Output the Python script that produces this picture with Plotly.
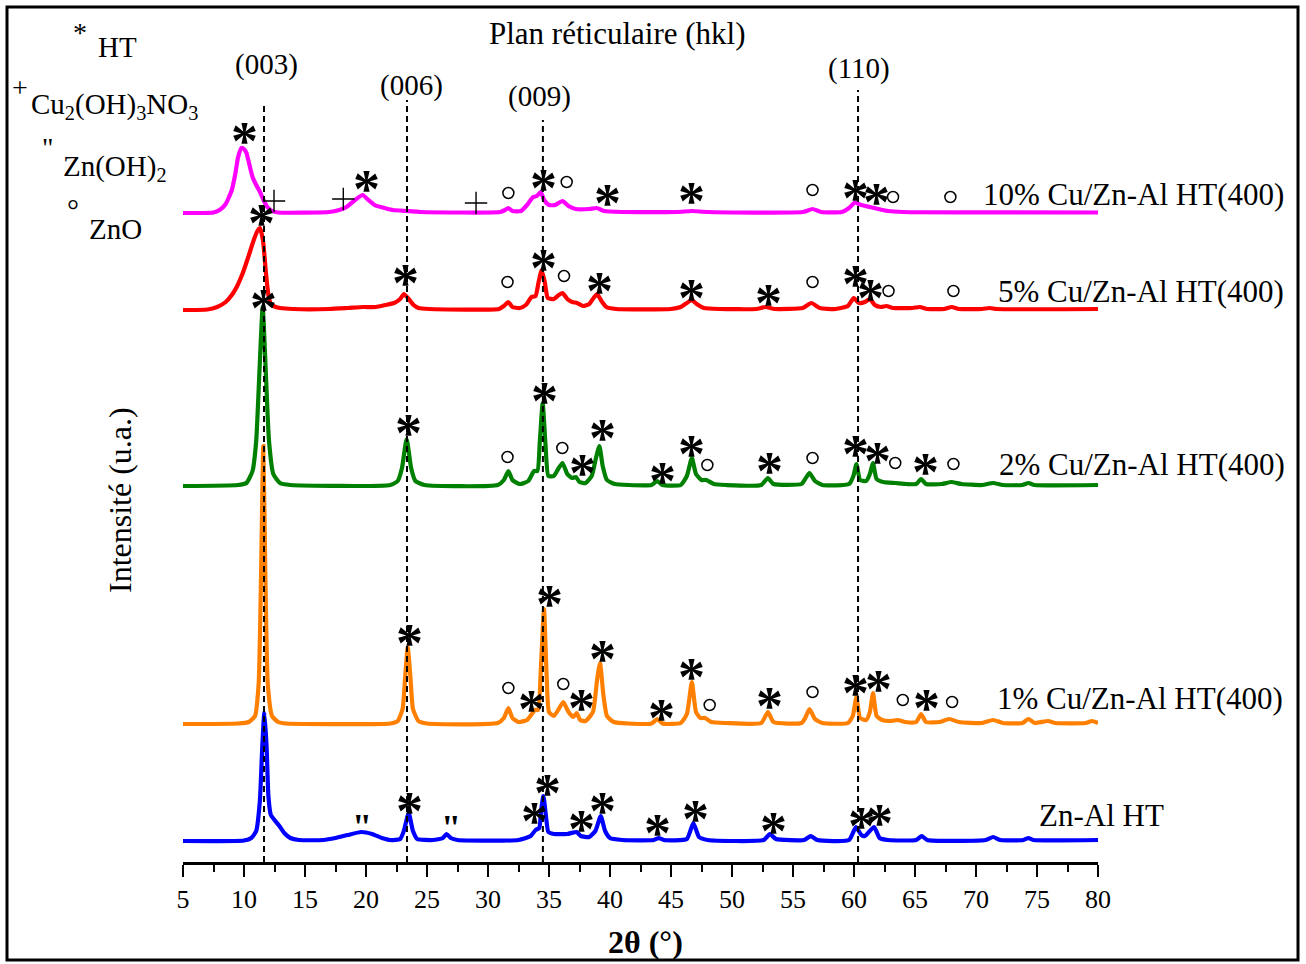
import plotly.graph_objects as go

# ---------------- data (2theta in degrees, intensity in a.u. above each baseline) -------------
tt_znal = [5, 10.0, 10.6, 11.0, 11.3, 11.5, 11.67, 11.85, 12.0, 12.2, 12.5, 12.9, 13.3, 13.8, 14.5,
           16.5, 17.5, 18.5, 19.6, 20.5, 21.3, 22.0, 22.8, 23.1, 23.5, 23.85, 24.2, 25.5, 26.3, 26.6,
           26.95, 27.5, 32.5, 33.5, 33.9, 34.2, 34.35, 34.54, 34.75, 34.95, 35.4, 36.5, 37.27, 37.6,
           38.3, 38.8, 39.24, 39.6, 40.0, 41.0, 43.6, 44.0, 44.4, 46.3, 46.83, 47.3, 48.0, 52.6, 53.1,
           53.6, 55.9, 56.45, 57.0, 59.6, 60.16, 60.6, 60.9, 61.64, 62.1, 62.8, 65.1, 65.55, 66.0,
           70.8, 71.4, 72.0, 73.9, 74.3, 74.7, 80]
int_znal = [0, 0.5, 3, 10, 40, 95, 129, 95, 45, 26, 21, 15, 8, 3, 1,
            1, 3, 6, 9, 7, 3, 1, 2, 10, 28, 10, 2, 1, 3, 7,
            3, 1, 1, 5, 11, 13, 30, 45, 25, 9, 7, 7, 9, 5,
            4, 10, 25, 10, 3, 1, 1, 3, 1, 2, 18, 4, 1, 1, 7,
            2, 1, 5, 1, 1, 14, 6, 5, 14, 3, 1, 1, 5, 1,
            1, 4, 1, 1, 3, 1, 1]

tt_cu1 = [5, 9.5, 10.4, 10.9, 11.2, 11.4, 11.58, 11.75, 11.95, 12.3, 12.8, 13.5, 22.0, 22.6, 23.0,
          23.2, 23.42, 23.65, 23.85, 24.3, 25.0, 30.8, 31.3, 31.67, 32.0, 32.5, 33.2, 33.6, 33.85,
          34.1, 34.35, 34.59, 34.8, 35.0, 35.4, 35.8, 36.17, 36.6, 37.0, 37.27, 37.55, 38.0, 38.6,
          38.95, 39.18, 39.45, 39.75, 40.3, 41.5, 43.4, 43.88, 44.3, 45.8, 46.3, 46.71, 47.05, 47.4,
          47.8, 48.3, 49.5, 52.4, 52.94, 53.4, 55.7, 56.0, 56.35, 56.8, 57.4, 59.5, 59.9, 60.2, 60.5,
          61.0, 61.3, 61.56, 61.85, 62.3, 63.0, 63.58, 64.2, 65.1, 65.5, 65.9, 67.0, 67.8, 68.6, 70.5,
          71.4, 72.2, 73.8, 74.3, 74.8, 75.9, 76.5, 79.0, 79.5, 80]
int_cu1 = [0, 0.5, 2, 8, 40, 150, 278, 150, 40, 8, 2, 0.5, 0.5, 3, 15,
           45, 77, 45, 15, 3, 0.5, 1, 6, 16, 6, 2, 4, 10, 14,
           14, 60, 115, 50, 12, 8, 15, 22, 12, 7, 11, 4, 3, 12,
           45, 61, 30, 8, 2, 0.5, 0.5, 5, 0.5, 1, 10, 42, 12, 6,
           6, 2, 1, 1, 12, 2, 1, 6, 15, 5, 1, 1, 8, 27, 6,
           4, 12, 31, 8, 4, 3, 4, 2, 2, 10, 2, 2, 5, 2, 1,
           4, 1, 1, 5, 1, 3, 1, 1, 3, 1]

tt_cu2 = [5, 9.5, 10.2, 10.7, 11.0, 11.25, 11.53, 11.8, 12.05, 12.4, 12.95, 13.8, 22.0, 22.6, 22.95,
          23.33, 23.7, 24.05, 24.8, 30.8, 31.3, 31.67, 32.0, 32.6, 33.3, 33.77, 34.05, 34.25, 34.48,
          34.72, 34.95, 35.4, 35.8, 36.11, 36.5, 36.9, 37.2, 37.5, 38.0, 38.5, 38.85, 39.13, 39.4,
          39.75, 40.4, 41.5, 43.4, 43.88, 44.3, 45.8, 46.3, 46.71, 47.05, 47.5, 47.9, 48.5, 49.5,
          52.4, 52.94, 53.4, 55.7, 56.0, 56.35, 56.8, 57.4, 59.6, 59.95, 60.2, 60.5, 61.0, 61.3,
          61.56, 61.85, 62.4, 63.4, 64.3, 65.1, 65.5, 65.9, 67.2, 67.98, 68.8, 70.5, 71.4, 72.2,
          73.8, 74.3, 74.8, 80]
int_cu2 = [0, 1, 3, 15, 45, 110, 179, 110, 45, 12, 3, 1, 1, 5, 18,
           47, 18, 5, 1, 1, 6, 15, 6, 2, 5, 15, 15, 45, 83,
           40, 10, 10, 18, 23, 12, 8, 9, 4, 3, 10, 28, 40, 20,
           6, 2, 1, 1, 5, 1, 1, 10, 28, 12, 6, 6, 2, 1,
           1, 8, 2, 2, 7, 13, 5, 1, 2, 10, 22, 6, 5, 12,
           23, 7, 4, 3, 2, 2, 7, 2, 2, 4, 2, 1, 3, 1,
           1, 3, 1, 1]

tt_cu5 = [5, 7.0, 7.8, 8.5, 9.0, 9.4, 9.9, 10.35, 10.8, 11.1, 11.31, 11.55, 11.8, 12.0, 12.2, 12.6,
          12.95, 14.0, 17.0, 18.5, 19.78, 20.8, 21.6, 22.3, 22.8, 23.11, 23.5, 23.9, 24.3, 25.2, 30.9,
          31.3, 31.67, 32.0, 32.6, 33.1, 33.57, 33.9, 34.15, 34.4, 34.65, 34.9, 35.4, 35.8, 36.11,
          36.5, 36.9, 37.3, 37.8, 38.3, 38.65, 38.95, 39.3, 39.7, 40.5, 45.0, 45.8, 46.3, 46.71,
          47.1, 47.7, 49.0, 52.0, 52.75, 53.5, 55.8, 56.5, 57.2, 58.5, 59.5, 59.98, 60.4, 60.9, 61.3,
          61.7, 62.2, 62.66, 63.2, 64.8, 65.4, 66.0, 67.4, 68.0, 68.6, 70.5, 71.1, 71.7, 80]
int_cu5 = [0, 0.5, 3, 8, 15, 23, 37, 53, 70, 79, 82, 70, 37, 15, 6, 3,
           2, 1, 1, 2, 3, 3, 5, 7, 11, 16, 11, 5, 2, 1, 1,
           4, 8, 3, 2, 5, 13, 14, 28, 40, 28, 12, 11, 15, 17,
           11, 8, 7, 4, 6, 12, 16, 9, 3, 1, 1, 3, 7, 10,
           6, 2, 1, 1, 3, 1, 2, 7, 2, 1, 4, 12, 7, 8, 11,
           5, 3, 4, 2, 2, 3, 1, 1, 3, 1, 1, 2, 1, 1]

tt_cu10 = [5, 7.5, 8.0, 8.5, 9.0, 9.3, 9.5, 9.79, 10.0, 10.2, 10.45, 10.7, 11.0, 11.31, 11.6, 11.91,
           12.3, 12.8, 17.0, 17.8, 18.4, 19.2, 19.73, 20.2, 20.7, 21.2, 22.2, 23.3, 24.5, 31.0, 31.4,
           31.67, 32.0, 32.7, 33.2, 33.7, 34.0, 34.32, 34.6, 35.0, 35.5, 36.11, 36.6, 37.2, 38.3,
           38.91, 39.5, 41.0, 45.5, 46.7, 48.0, 55.8, 56.6, 57.3, 59.0, 59.6, 60.08, 60.6, 61.3,
           62.0, 62.8, 64.0, 80]
int_cu10 = [0, 0.5, 3, 9, 23, 40, 55, 65, 64, 60, 48, 36, 28, 21, 13, 6,
            2, 0.5, 1, 3, 6, 14, 18, 13, 8, 6, 3, 2, 1, 1, 3,
            5, 2, 2, 8, 16, 17, 21, 13, 8, 8, 12, 7, 4, 4,
            5, 2, 1, 1, 2, 1, 1, 4, 1, 1, 5, 10.5, 8, 6,
            4, 2, 1, 0.5]

sample_names = ["Zn-Al HT", "1% Cu/Zn-Al HT(400)", "2% Cu/Zn-Al HT(400)",
                "5% Cu/Zn-Al HT(400)", "10% Cu/Zn-Al HT(400)"]
series_tt = [tt_znal, tt_cu1, tt_cu2, tt_cu5, tt_cu10]
series_int = [int_znal, int_cu1, int_cu2, int_cu5, int_cu10]

# hkl reflections (2theta)
hkl_labels = ["(003)", "(006)", "(009)", "(110)"]
hkl_tt = [11.64, 23.36, 34.5, 60.33]

# phase marks (2theta, a.u. on the stacked scale)
ht_marks = [(10.0, 732), (20.06, 684), (34.54, 685), (39.78, 670), (46.71, 672), (60.16, 675), (61.84, 671),
            (11.45, 650), (23.25, 590), (34.54, 605), (39.1, 582), (46.71, 575), (53.03, 570), (60.16, 589), (61.38, 575),
            (11.58, 565), (23.47, 440), (34.67, 472), (37.73, 400), (39.4, 435), (44.32, 392), (46.71, 419),
            (53.11, 402), (60.16, 419), (61.93, 412), (65.88, 401),
            (23.55, 230), (33.58, 164), (35.02, 269), (37.68, 165), (39.4, 214), (44.23, 155), (46.71, 196),
            (53.05, 167), (60.09, 180), (62.0, 184), (65.97, 165),
            (23.55, 62), (33.85, 52), (34.86, 80), (37.68, 44), (39.4, 62), (43.88, 40), (46.97, 54),
            (53.39, 42), (60.63, 47), (62.07, 50)]
zno_marks = [(31.67, 669), (36.45, 680), (56.6, 672), (63.2, 665), (67.9, 665),
             (31.6, 580), (36.23, 586), (56.6, 580), (62.83, 571), (68.15, 571),
             (31.6, 405), (36.09, 414), (47.98, 397), (56.6, 404), (63.38, 399), (68.15, 398),
             (31.67, 174), (36.17, 178), (48.17, 157), (56.6, 170), (64.0, 162), (68.04, 160)]
cu_marks = [(12.46, 661), (18.14, 663), (29.02, 659)]
znoh_marks = [(19.65, 45), (26.94, 44)]

# ---------------- styling / layout -----------------
colors = ["#0000FF", "#FF8000", "#008000", "#FF0000", "#FF00FF"]
offsets = [21, 138, 376, 552, 649]
label_pos = [(1101, 815, "center"), (1285, 698, "right"), (1287, 464, "right"),
             (1286, 291, "right"), (1286, 194, "right")]
hkl_label_pos = [(266, 64), (411, 85), (539, 97), (859, 69)]
hkl_line_top = [756, 762, 742, 772]

W, H = 1306, 964
L, R, T, B = 183, 208, 10, 102
PW, PH = W - L - R, H - T - B
FONT = "Liberation Serif"


def pxx(p):
    return (p - L) / PW


def pxy(p):
    return (H - B - p) / PH


fig = go.Figure()
for tt, inten, off, col in zip(series_tt, series_int, offsets, colors):
    fig.add_trace(go.Scatter(x=tt, y=[v + off for v in inten], mode="lines",
                             line=dict(color=col, width=4.2, shape="spline", smoothing=0.5),
                             showlegend=False, hoverinfo="skip"))

fig.add_trace(go.Scatter(x=[p[0] for p in zno_marks], y=[p[1] for p in zno_marks], mode="markers",
                         marker=dict(symbol="circle-open", size=11, color="black", line=dict(width=1.5)),
                         showlegend=False, hoverinfo="skip"))
fig.add_trace(go.Scatter(x=[p[0] for p in cu_marks], y=[p[1] for p in cu_marks], mode="markers",
                         marker=dict(symbol="cross-thin-open", size=16, color="black", line=dict(width=1.4, color="black")),
                         showlegend=False, hoverinfo="skip"))

annotations = []
for (x, y) in ht_marks:
    annotations.append(dict(x=x, y=y, xref="x", yref="y", text="<b>*</b>", showarrow=False,
                            font=dict(family=FONT, size=54, color="black"), yshift=-11,
                            xanchor="center", yanchor="middle"))
for (x, y) in znoh_marks:
    annotations.append(dict(x=x, y=y, xref="x", yref="y", text="<b>\"</b>", showarrow=False,
                            font=dict(family=FONT, size=36, color="black"), yshift=-10,
                            xanchor="center", yanchor="middle"))

for name, (lx, ly, anc) in zip(sample_names, label_pos):
    annotations.append(dict(x=pxx(lx), y=pxy(ly), xref="paper", yref="paper", text=name, showarrow=False,
                            font=dict(family=FONT, size=31, color="black"), xanchor=anc, yanchor="middle"))

for lab, (lx, ly) in zip(hkl_labels, hkl_label_pos):
    annotations.append(dict(x=pxx(lx), y=pxy(ly), xref="paper", yref="paper", text=lab, showarrow=False,
                            font=dict(family=FONT, size=29, color="black"), xanchor="center", yanchor="middle"))

annotations.append(dict(x=pxx(617), y=pxy(33), xref="paper", yref="paper", text="Plan réticulaire (hkl)",
                        showarrow=False, font=dict(family=FONT, size=31, color="black"),
                        xanchor="center", yanchor="middle"))

# phase key (top-left)
key_items = [("*", 80, 32, 28, "HT", 96, 47),
             ("+", 20, 88, 28, "Cu<sub>2</sub>(OH)<sub>3</sub>NO<sub>3</sub>", 29, 106),
             ("\"", 47, 147, 28, "Zn(OH)<sub>2</sub>", 61, 168),
             ("°", 73, 210, 30, "ZnO", 87, 229)]
for sym, sx, sy, ss, txt, tx, ty in key_items:
    annotations.append(dict(x=pxx(sx), y=pxy(sy), xref="paper", yref="paper", text=sym, showarrow=False,
                            font=dict(family=FONT, size=ss, color="black"), xanchor="center", yanchor="middle"))
    annotations.append(dict(x=pxx(tx), y=pxy(ty), xref="paper", yref="paper", text=txt, showarrow=False,
                            font=dict(family=FONT, size=29, color="black"), xanchor="left", yanchor="middle"))

annotations.append(dict(x=pxx(645), y=pxy(942), xref="paper", yref="paper", text="<b>2θ (°)</b>",
                        showarrow=False, font=dict(family=FONT, size=32, color="black"),
                        xanchor="center", yanchor="middle"))
annotations.append(dict(x=pxx(120), y=pxy(500), xref="paper", yref="paper", text="Intensité (u.a.)",
                        showarrow=False, textangle=-90, font=dict(family=FONT, size=32, color="black"),
                        xanchor="center", yanchor="middle"))

shapes = []
for xv, top in zip(hkl_tt, hkl_line_top):
    shapes.append(dict(type="line", xref="x", yref="y", x0=xv, x1=xv, y0=0, y1=top,
                       line=dict(color="black", width=2, dash="6px,4px"), layer="above"))
shapes.append(dict(type="rect", xref="paper", yref="paper", x0=pxx(7), x1=pxx(1298), y0=pxy(960), y1=pxy(7),
                   line=dict(color="black", width=3), fillcolor="rgba(0,0,0,0)", layer="above"))

fig.update_layout(
    width=W, height=H, autosize=False,
    margin=dict(l=L, r=R, t=T, b=B, pad=0),
    paper_bgcolor="white", plot_bgcolor="white",
    showlegend=False,
    annotations=annotations, shapes=shapes,
    xaxis=dict(range=[5, 80], tickmode="linear", tick0=5, dtick=5, showgrid=False, zeroline=False,
               showline=True, linecolor="black", linewidth=3, ticks="outside", ticklen=12, tickwidth=2,
               tickcolor="black", tickfont=dict(family=FONT, size=26, color="black"),
               minor=dict(ticks="outside", ticklen=7, tickwidth=2, tickcolor="black", tick0=5, dtick=2.5,
                          showgrid=False)),
    yaxis=dict(range=[0, PH], visible=False, fixedrange=True),
)

fig.write_html("out.html", config={"displayModeBar": False},
               post_script="document.body.style.margin='0';document.body.style.overflow='hidden';")
